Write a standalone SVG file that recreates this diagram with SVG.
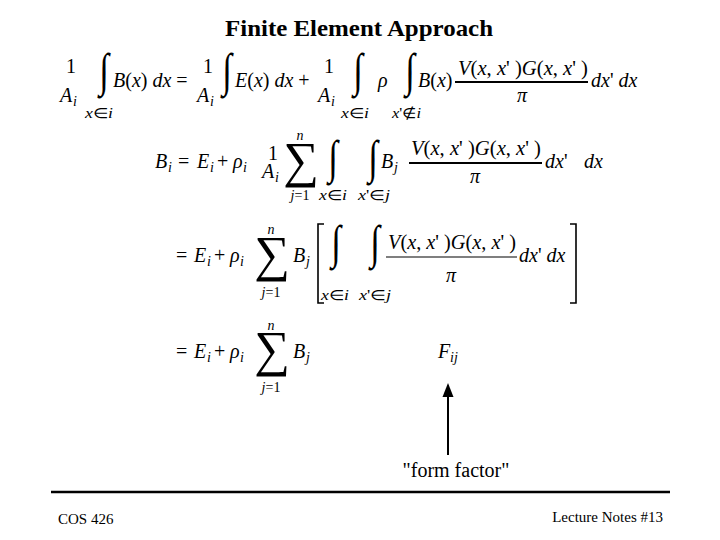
<svg xmlns="http://www.w3.org/2000/svg" width="720" height="540" viewBox="0 0 720 540">
<style>
text{font-family:"Liberation Serif","Times New Roman",serif;fill:#000}
.m{font-size:20px}
.it{font-style:italic}
.s{font-size:14px}
.n{font-size:14px}
.int{font-size:47px}
.sum{font-size:50px}
.bar{stroke:#000;stroke-width:2.2}
.thin{stroke:#000;stroke-width:1.2;fill:none}
.brk{stroke:#000;stroke-width:1.6;fill:none}
</style>
<rect width="720" height="540" fill="#fff"/>
<text id="title" x="359" y="36" text-anchor="middle" style="font-size:24px;font-weight:bold" textLength="268" lengthAdjust="spacingAndGlyphs">Finite Element Approach</text>

<g id="eq1">
<text class="m" x="66" y="73">1</text>
<text class="m it" x="60" y="102">A</text><text class="s it" x="73" y="106">i</text>
<text class="int" transform="translate(104,86) scale(0.75,1)" text-anchor="middle">∫</text>
<text class="s it" x="85" y="118" textLength="28" lengthAdjust="spacingAndGlyphs">x<tspan font-style="normal">∈</tspan>i</text>
<text class="m it" x="113" y="87">B<tspan font-style="normal">(</tspan>x<tspan font-style="normal">)</tspan> dx <tspan font-style="normal">=</tspan></text>
<text class="m" x="203" y="73">1</text>
<text class="m it" x="197" y="102">A</text><text class="s it" x="210" y="106">i</text>
<text class="int" transform="translate(227,86) scale(0.75,1)" text-anchor="middle">∫</text>
<text class="m it" x="235" y="87">E<tspan font-style="normal">(</tspan>x<tspan font-style="normal">)</tspan> dx <tspan font-style="normal">+</tspan></text>
<text class="m" x="324" y="73">1</text>
<text class="m it" x="318" y="102">A</text><text class="s it" x="331" y="106">i</text>
<text class="int" transform="translate(358,86) scale(0.75,1)" text-anchor="middle">∫</text>
<text class="s it" x="341" y="118" textLength="28" lengthAdjust="spacingAndGlyphs">x<tspan font-style="normal">∈</tspan>i</text>
<text class="m it" x="378" y="87">ρ</text>
<text class="int" transform="translate(410,86) scale(0.75,1)" text-anchor="middle">∫</text>
<text class="s it" x="392" y="118" textLength="29" lengthAdjust="spacingAndGlyphs">x<tspan font-style="normal">'∉</tspan>i</text>
<text class="m it" x="418" y="87">B<tspan font-style="normal">(</tspan>x<tspan font-style="normal">)</tspan></text>
<text class="m it" x="458" y="75" textLength="130" lengthAdjust="spacingAndGlyphs">V<tspan font-style="normal">(</tspan>x<tspan font-style="normal">, </tspan>x<tspan font-style="normal">' )</tspan>G<tspan font-style="normal">(</tspan>x<tspan font-style="normal">, </tspan>x<tspan font-style="normal">' )</tspan></text>
<line class="bar" x1="455" y1="82" x2="588" y2="82"/>
<text class="m it" x="522" y="102" text-anchor="middle">π</text>
<text class="m it" x="591" y="87">dx<tspan font-style="normal">'</tspan> dx</text>
</g>

<g id="eq2">
<text class="m it" x="155" y="168">B</text><text class="s it" x="168" y="172">i</text>
<text class="m" x="178" y="168">=</text>
<text class="m it" x="197" y="168">E</text><text class="s it" x="210" y="172">i</text>
<text class="m" x="217" y="168">+</text>
<text class="m it" x="233" y="168">ρ</text><text class="s it" x="243" y="172">i</text>
<text class="m" x="268" y="160">1</text>
<text class="m it" x="262" y="178">A</text><text class="s it" x="275" y="182">i</text>
<text class="sum" x="301" y="177" text-anchor="middle">∑</text>
<text class="n it" x="300" y="140" text-anchor="middle">n</text>
<text class="n it" x="300" y="200" text-anchor="middle">j<tspan font-style="normal">=1</tspan></text>
<text class="int" transform="translate(333,173) scale(0.75,1)" text-anchor="middle">∫</text>
<text class="s it" x="319" y="200" textLength="28" lengthAdjust="spacingAndGlyphs">x<tspan font-style="normal">∈</tspan>i</text>
<text class="int" transform="translate(373,173) scale(0.75,1)" text-anchor="middle">∫</text>
<text class="s it" x="358" y="200" textLength="32" lengthAdjust="spacingAndGlyphs">x<tspan font-style="normal">'∈</tspan>j</text>
<text class="m it" x="381" y="168">B</text><text class="s it" x="394" y="172">j</text>
<text class="m it" x="411" y="155" textLength="130" lengthAdjust="spacingAndGlyphs">V<tspan font-style="normal">(</tspan>x<tspan font-style="normal">, </tspan>x<tspan font-style="normal">' )</tspan>G<tspan font-style="normal">(</tspan>x<tspan font-style="normal">, </tspan>x<tspan font-style="normal">' )</tspan></text>
<line class="bar" x1="409" y1="163" x2="542" y2="163"/>
<text class="m it" x="475" y="183" text-anchor="middle">π</text>
<text class="m it" x="545" y="168">dx<tspan font-style="normal">'</tspan></text>
<text class="m it" x="584" y="168">dx</text>
</g>

<g id="eq3">
<text class="m" x="176" y="262">=</text>
<text class="m it" x="194" y="262">E</text><text class="s it" x="207" y="266">i</text>
<text class="m" x="214" y="262">+</text>
<text class="m it" x="230" y="262">ρ</text><text class="s it" x="240" y="266">i</text>
<text class="sum" x="272" y="271" text-anchor="middle">∑</text>
<text class="n it" x="271" y="234" text-anchor="middle">n</text>
<text class="n it" x="271" y="297" text-anchor="middle">j<tspan font-style="normal">=1</tspan></text>
<text class="m it" x="293" y="262">B</text><text class="s it" x="306" y="266">j</text>
<polyline class="brk" points="324,224 318,224 318,303 324,303"/>
<text class="int" transform="translate(336,258) scale(0.75,1)" text-anchor="middle">∫</text>
<text class="s it" x="321" y="300" textLength="28" lengthAdjust="spacingAndGlyphs">x<tspan font-style="normal">∈</tspan>i</text>
<text class="int" transform="translate(375,258) scale(0.75,1)" text-anchor="middle">∫</text>
<text class="s it" x="359" y="300" textLength="32" lengthAdjust="spacingAndGlyphs">x<tspan font-style="normal">'∈</tspan>j</text>
<text class="m it" x="388" y="249" textLength="128" lengthAdjust="spacingAndGlyphs">V<tspan font-style="normal">(</tspan>x<tspan font-style="normal">, </tspan>x<tspan font-style="normal">' )</tspan>G<tspan font-style="normal">(</tspan>x<tspan font-style="normal">, </tspan>x<tspan font-style="normal">' )</tspan></text>
<line class="thin" x1="386" y1="257" x2="517" y2="257"/>
<text class="m it" x="451" y="282" text-anchor="middle">π</text>
<text class="m it" x="519" y="262">dx<tspan font-style="normal">'</tspan> dx</text>
<polyline class="brk" points="570,224 576,224 576,303 570,303"/>
</g>

<g id="eq4">
<text class="m" x="176" y="358">=</text>
<text class="m it" x="194" y="358">E</text><text class="s it" x="207" y="362">i</text>
<text class="m" x="214" y="358">+</text>
<text class="m it" x="230" y="358">ρ</text><text class="s it" x="240" y="362">i</text>
<text class="sum" x="272" y="366" text-anchor="middle">∑</text>
<text class="n it" x="271" y="330" text-anchor="middle">n</text>
<text class="n it" x="271" y="392" text-anchor="middle">j<tspan font-style="normal">=1</tspan></text>
<text class="m it" x="293" y="358">B</text><text class="s it" x="306" y="362">j</text>
<text class="m it" x="438" y="358">F</text><text class="s it" x="450" y="362">ij</text>
</g>

<g id="connectors">
<line x1="448" y1="455" x2="448" y2="395" stroke="#000" stroke-width="2"/>
<polygon points="448,383 442.5,397 453.5,397" fill="#000"/>
</g>
<text id="formfactor" x="456" y="477" text-anchor="middle" style="font-size:20px">"form factor"</text>

<line x1="51" y1="492" x2="670" y2="492" stroke="#000" stroke-width="2.5"/>
<text x="58" y="524" style="font-size:15px">COS 426</text>
<text x="663" y="522" text-anchor="end" style="font-size:15px">Lecture Notes #13</text>
</svg>
